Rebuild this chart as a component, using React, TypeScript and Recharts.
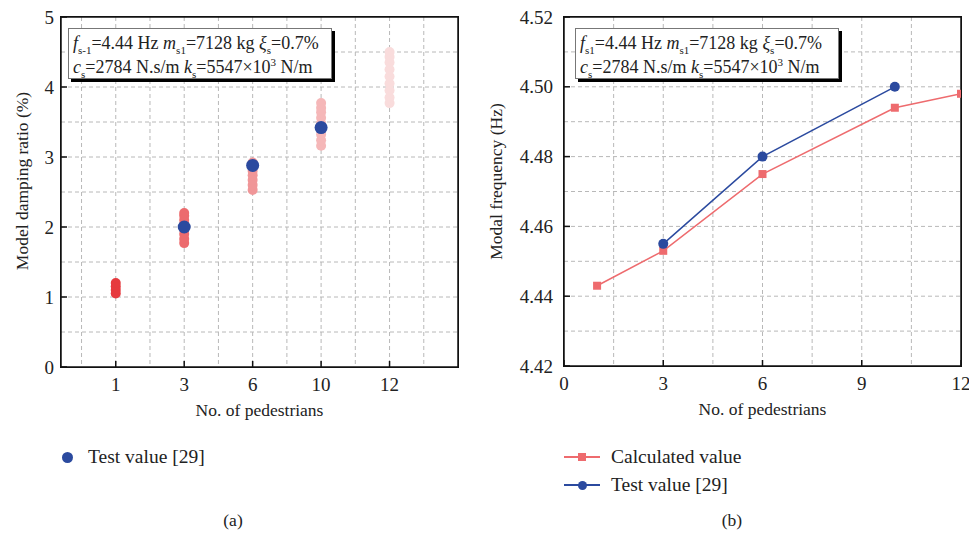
import { CartesianGrid, Scatter, ScatterChart, XAxis, YAxis } from 'recharts';

const FONT = '"Liberation Serif", "DejaVu Serif", serif';

// (a) modal damping ratio, samples per pedestrian group
const pedestrianLabels = ['1', '3', '6', '10', '12'];
const groupColors = ['#e63a3e', '#ec6b6e', '#f09698', '#f5b7b8', '#f9dcdc'];
const damping1 = [1.05, 1.1, 1.15, 1.2];
const damping3 = [1.77, 1.83, 1.9, 1.97, 2.04, 2.1, 2.16, 2.2];
const damping6 = [2.53, 2.6, 2.67, 2.74, 2.8, 2.86, 2.92];
const damping10 = [3.16, 3.24, 3.32, 3.4, 3.48, 3.56, 3.64, 3.7, 3.77];
const damping12 = [3.77, 3.85, 3.95, 4.05, 4.15, 4.25, 4.35, 4.43, 4.5];
const dampingTestGroups = [2, 3, 4];
const dampingTest = [2.0, 2.88, 3.42];

const groupTicks = [1, 2, 3, 4, 5];
const groupGrid = [0.5, 1, 1.5, 2, 2.5, 3, 3.5, 4, 4.5, 5, 5.5];
const dampingTicks = [0, 1, 2, 3, 4, 5];
const dampingGrid = [0.5, 1, 1.5, 2, 2.5, 3, 3.5, 4, 4.5];

// (b) modal frequency
const calcPedestrians = [1, 3, 6, 10, 12];
const calcFrequency = [4.443, 4.453, 4.475, 4.494, 4.498];
const testPedestrians = [3, 6, 10];
const testFrequency = [4.455, 4.48, 4.5];

const pedTicks = [0, 3, 6, 9, 12];
const pedGrid = [1.5, 3, 4.5, 6, 7.5, 9, 10.5];
const freqTicks = [4.42, 4.44, 4.46, 4.48, 4.5, 4.52];
const freqGrid = [4.43, 4.44, 4.45, 4.46, 4.47, 4.48, 4.49, 4.5, 4.51];

const RED = '#ee6b6e';
const BLUE = '#2b4a9f';
const INK = '#111';

const dampingGroups = [damping1, damping3, damping6, damping10, damping12].map((vals, i) =>
  vals.map((v) => ({ pos: i + 1, value: v }))
);
const dampingTestData = dampingTest.map((v, i) => ({ pos: dampingTestGroups[i], value: v }));
const calcData = calcPedestrians.map((p, i) => ({ x: p, y: calcFrequency[i] }));
const testData = testPedestrians.map((p, i) => ({ x: p, y: testFrequency[i] }));

const circle = (r: number, color: string) => (props: any) => (
  <circle cx={props.cx} cy={props.cy} r={r} fill={color} />
);
const square = (s: number, color: string) => (props: any) => (
  <rect x={props.cx - s / 2} y={props.cy - s / 2} width={s} height={s} fill={color} />
);

const TICK_GAP = 9;
const TICK_LEN = 6;
const labelStyle = { fill: '#222', fontSize: 19, fontFamily: FONT };
const axisLine = { stroke: INK, strokeWidth: 1.5 };

// bottom tick: label plus an inward tick mark (axis sits TICK_GAP above the label anchor)
const bottomTick = (fmt: (v: number) => string) => (props: any) => {
  const { x, y, payload } = props;
  return (
    <g>
      <path d={`M${x},${y - TICK_GAP}V${y - TICK_GAP - TICK_LEN}`} stroke={INK} strokeWidth={1.5} />
      <text x={x} y={y} dy="0.8em" textAnchor="middle" {...labelStyle}>
        {fmt(payload.value)}
      </text>
    </g>
  );
};

const leftTick = (fmt: (v: number) => string, gap: number) => (props: any) => {
  const { x, y, payload } = props;
  return (
    <g>
      <path d={`M${x + gap},${y}H${x + gap + TICK_LEN}`} stroke={INK} strokeWidth={1.5} />
      <text x={x} y={y} dy="0.35em" textAnchor="end" {...labelStyle}>
        {fmt(payload.value)}
      </text>
    </g>
  );
};

const titleText = { fill: '#222', fontSize: 17.5, fontFamily: FONT };

const xTitle = (text: string) => (props: any) => {
  const vb = props.viewBox || { x: 0, y: 0, width: 0, height: 0 };
  return (
    <text x={vb.x + vb.width / 2} y={vb.y + 43} dominantBaseline="central" textAnchor="middle" {...titleText}>
      {text}
    </text>
  );
};

const yTitle = (text: string, cx: number, shift: number) => (props: any) => {
  const vb = props.viewBox || { x: 0, y: 0, width: 0, height: 0 };
  const x = vb.x + cx;
  const y = vb.y + vb.height / 2 + shift;
  return (
    <text
      x={x}
      y={y}
      transform={`rotate(-90 ${x} ${y})`}
      dominantBaseline="central"
      textAnchor="middle"
      {...titleText}
    >
      {text}
    </text>
  );
};

const subStyle = { fontSize: 11, lineHeight: 0 };

function ParamBox({ left, first }: { left: number; first: string }) {
  return (
    <div
      style={{
        position: 'absolute',
        left,
        top: 28,
        width: 264,
        height: 51,
        background: '#fff',
        border: '1px solid #777',
        boxShadow: '3px 3px 0 #000',
        fontSize: 18,
        lineHeight: '24px',
        padding: '2px 0 0 4px',
        boxSizing: 'border-box',
        whiteSpace: 'nowrap',
      }}
    >
      <div>
        <i>f</i><sub style={subStyle}>{first}</sub>=4.44 Hz <i>m</i><sub style={subStyle}>s1</sub>=7128 kg{' '}
        <i>ξ</i><sub style={subStyle}>s</sub>=0.7%
      </div>
      <div>
        <i>c</i><sub style={subStyle}>s</sub>=2784 N.s/m <i>k</i><sub style={subStyle}>s</sub>=5547×10
        <sup style={subStyle}>3</sup> N/m
      </div>
    </div>
  );
}

// plot-area border, matching the chart margins + axis sizes
function Frame({ left, top, width, height }: { left: number; top: number; width: number; height: number }) {
  return (
    <div
      style={{
        position: 'absolute',
        left: left - 0.75,
        top: top - 0.75,
        width: width + 1.5,
        height: height + 1.5,
        border: `1.5px solid ${INK}`,
        boxSizing: 'border-box',
        pointerEvents: 'none',
      }}
    />
  );
}

function LineKey({ color, round }: { color: string; round: boolean }) {
  return (
    <span style={{ position: 'relative', display: 'inline-block', width: 36, height: 12, marginRight: 11 }}>
      <span style={{ position: 'absolute', left: 0, top: 5, width: 36, height: 1.5, background: color }} />
      <span
        style={{
          position: 'absolute',
          left: round ? 13.5 : 14,
          top: round ? 1.5 : 2,
          width: round ? 9 : 8,
          height: round ? 9 : 8,
          borderRadius: round ? '50%' : 0,
          background: color,
        }}
      />
    </span>
  );
}

const captionStyle = { position: 'absolute' as const, fontSize: 17.5, lineHeight: '20px', textAlign: 'center' as const };

export default function App() {
  return (
    <div
      style={{
        position: 'absolute',
        left: 0,
        top: 0,
        width: 969,
        height: 533,
        background: '#fff',
        fontFamily: FONT,
        color: '#222',
      }}
    >
      {/* (a) */}
      <div style={{ position: 'absolute', left: 0, top: 0 }}>
        <ScatterChart width={480} height={440} margin={{ top: 17, right: 22, bottom: 43, left: 0 }}>
          <CartesianGrid
            stroke="#b8b8b8"
            strokeDasharray="4 3"
            verticalValues={groupGrid}
            horizontalValues={dampingGrid}
          />
          {dampingGroups.map((d, i) => (
            <Scatter key={i} data={d} shape={circle(5, groupColors[i])} isAnimationActive={false} />
          ))}
          <Scatter data={dampingTestData} shape={circle(6.5, BLUE)} isAnimationActive={false} />
          <XAxis
            type="number"
            dataKey="pos"
            domain={[0.2, 6]}
            allowDataOverflow
            ticks={groupTicks}
            interval={0}
            height={30}
            tickSize={0}
            tickMargin={TICK_GAP}
            tick={bottomTick((v) => pedestrianLabels[v - 1])}
            tickLine={false}
            axisLine={axisLine}
            label={xTitle('No. of pedestrians')}
          />
          <XAxis
            xAxisId="top"
            orientation="top"
            mirror
            type="number"
            dataKey="pos"
            domain={[0.2, 6]}
            allowDataOverflow
            ticks={groupTicks}
            interval={0}
            tick={false}
            tickSize={TICK_LEN}
            axisLine={axisLine}
            tickLine={axisLine}
          />
          <YAxis
            type="number"
            dataKey="value"
            domain={[0, 5]}
            allowDataOverflow
            ticks={dampingTicks}
            interval={0}
            width={61}
            tickSize={0}
            tickMargin={7}
            tick={leftTick(String, 7)}
            tickLine={false}
            axisLine={axisLine}
            label={yTitle('Model damping ratio (%)', 22, -11)}
          />
          <YAxis
            yAxisId="right"
            orientation="right"
            mirror
            type="number"
            dataKey="value"
            domain={[0, 5]}
            allowDataOverflow
            ticks={dampingTicks}
            interval={0}
            tick={false}
            tickSize={TICK_LEN}
            axisLine={axisLine}
            tickLine={axisLine}
          />
        </ScatterChart>
      </div>

      {/* (b) */}
      <div style={{ position: 'absolute', left: 480, top: 0 }}>
        <ScatterChart width={489} height={440} margin={{ top: 17, right: 8, bottom: 44, left: 0 }}>
          <CartesianGrid
            stroke="#b8b8b8"
            strokeDasharray="4 3"
            verticalValues={pedGrid}
            horizontalValues={freqGrid}
          />
          <Scatter
            data={calcData}
            line={{ stroke: RED, strokeWidth: 1.5 }}
            shape={square(8, RED)}
            isAnimationActive={false}
          />
          <Scatter
            data={testData}
            line={{ stroke: BLUE, strokeWidth: 1.5 }}
            shape={circle(5, BLUE)}
            isAnimationActive={false}
          />
          <XAxis
            type="number"
            dataKey="x"
            domain={[0, 12]}
            allowDataOverflow
            ticks={pedTicks}
            interval={0}
            height={30}
            tickSize={0}
            tickMargin={TICK_GAP}
            tick={bottomTick(String)}
            tickLine={false}
            axisLine={axisLine}
            label={xTitle('No. of pedestrians')}
          />
          <XAxis
            xAxisId="top"
            orientation="top"
            mirror
            type="number"
            dataKey="x"
            domain={[0, 12]}
            allowDataOverflow
            ticks={pedTicks}
            interval={0}
            tick={false}
            tickSize={TICK_LEN}
            axisLine={axisLine}
            tickLine={axisLine}
          />
          <YAxis
            type="number"
            dataKey="y"
            domain={[4.42, 4.52]}
            allowDataOverflow
            ticks={freqTicks}
            interval={0}
            width={84}
            tickSize={0}
            tickMargin={11}
            tick={leftTick((v) => v.toFixed(2), 11)}
            tickLine={false}
            axisLine={axisLine}
            label={yTitle('Modal frequency (Hz)', 16, -10)}
          />
          <YAxis
            yAxisId="right"
            orientation="right"
            mirror
            type="number"
            dataKey="y"
            domain={[4.42, 4.52]}
            allowDataOverflow
            ticks={freqTicks}
            interval={0}
            tick={false}
            tickSize={TICK_LEN}
            axisLine={axisLine}
            tickLine={axisLine}
          />
        </ScatterChart>
      </div>

      <Frame left={61} top={17} width={397} height={350} />
      <Frame left={564} top={17} width={397} height={349} />

      <ParamBox left={68} first="s-1" />
      <ParamBox left={575} first="s1" />

      {/* legends */}
      <div
        style={{
          position: 'absolute',
          left: 62,
          top: 446,
          display: 'flex',
          alignItems: 'center',
          fontSize: 19.5,
          lineHeight: '22px',
        }}
      >
        <span
          style={{ display: 'inline-block', width: 11, height: 11, borderRadius: '50%', background: BLUE, marginRight: 15 }}
        />
        Test value [29]
      </div>
      <div style={{ position: 'absolute', left: 564, top: 443, fontSize: 19.5, lineHeight: '28px' }}>
        <div style={{ display: 'flex', alignItems: 'center' }}>
          <LineKey color={RED} round={false} />
          Calculated value
        </div>
        <div style={{ display: 'flex', alignItems: 'center' }}>
          <LineKey color={BLUE} round />
          Test value [29]
        </div>
      </div>

      {/* captions */}
      <div style={{ ...captionStyle, left: 203, width: 60, top: 510 }}>(a)</div>
      <div style={{ ...captionStyle, left: 702, width: 60, top: 510 }}>(b)</div>
    </div>
  );
}
